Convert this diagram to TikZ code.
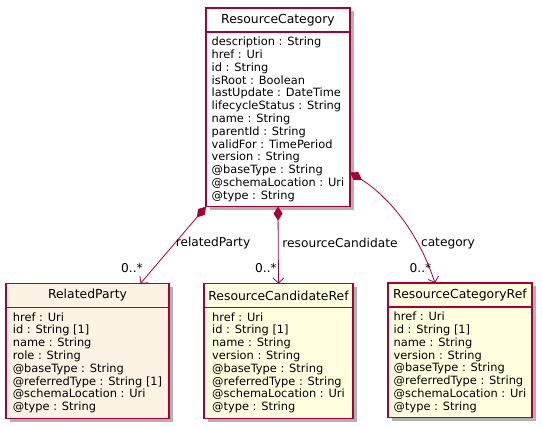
\documentclass[tikz,border=0pt]{standalone}
\usepackage{fontspec}
\setmainfont{DejaVu Sans}
\usetikzlibrary{arrows.meta,shadows}

\definecolor{umlred}{HTML}{A80036}
\definecolor{refyellow}{HTML}{FFFFE0}
\definecolor{partybeige}{HTML}{FCF2E3}

\tikzset{
    classhead/.style={draw=umlred, line width=1.2pt, outer sep=0pt, inner sep=0pt,
        minimum height=24pt, font=\fontsize{12.4}{14}\selectfont,
        drop shadow={shadow xshift=3.5pt, shadow yshift=-3.5pt, fill=black, opacity=0.3}},
    classbody/.style={draw=umlred, line width=1.2pt, outer sep=0pt, anchor=north,
        inner xsep=2pt, inner ysep=5pt, align=left,
        font=\fontsize{11.4}{12.8}\selectfont,
        drop shadow={shadow xshift=3.5pt, shadow yshift=-3.5pt, fill=black, opacity=0.3}},
    composition/.style={umlred, line width=0.8pt,
        {Diamond[length=14pt,width=9pt]}-{Straight Barb[length=5pt,width=11pt]}},
    rolelabel/.style={font=\fontsize{12.2}{14}\selectfont, inner sep=0pt}
}

\begin{document}
\begin{tikzpicture}[x=1pt, y=-1pt]
    \useasboundingbox (0,0) rectangle (542,427);

    % ResourceCategory
    \node[classhead, fill=white, minimum width=144pt] (rc) at (278,20) {ResourceCategory};
    \node[classbody, fill=white, minimum width=144pt] (rcattr) at (rc.south) {%
        description : String\\
        href : Uri\\
        id : String\\
        isRoot : Boolean\\
        lastUpdate : DateTime\\
        lifecycleStatus : String\\
        name : String\\
        parentId : String\\
        validFor : TimePeriod\\
        version : String\\
        @baseType : String\\
        @schemaLocation : Uri\\
        @type : String};

    % RelatedParty
    \node[classhead, fill=partybeige, minimum width=163pt] (rp) at (87.5,295.5) {RelatedParty};
    \node[classbody, fill=partybeige, minimum width=163pt] (rpattr) at (rp.south) {%
        href : Uri\\
        id : String [1]\\
        name : String\\
        role : String\\
        @baseType : String\\
        @referredType : String [1]\\
        @schemaLocation : Uri\\
        @type : String};

    % ResourceCandidateRef
    \node[classhead, fill=refyellow, minimum width=149pt] (rcr) at (278.5,295.5) {ResourceCandidateRef};
    \node[classbody, fill=refyellow, minimum width=149pt] (rcrattr) at (rcr.south) {%
        href : Uri\\
        id : String [1]\\
        name : String\\
        version : String\\
        @baseType : String\\
        @referredType : String\\
        @schemaLocation : Uri\\
        @type : String};

    % ResourceCategoryRef
    \node[classhead, fill=refyellow, minimum width=144pt] (cgr) at (460,295) {ResourceCategoryRef};
    \node[classbody, fill=refyellow, minimum width=144pt] (cgrattr) at (cgr.south) {%
        href : Uri\\
        id : String [1]\\
        name : String\\
        version : String\\
        @baseType : String\\
        @referredType : String\\
        @schemaLocation : Uri\\
        @type : String};

    % associations
    \draw[composition] (rcattr.south west) -- ([xshift=53pt]rp.north);
    \draw[composition] (rcattr.south) -- (rcr.north);
    \draw[composition] ([yshift=-53pt]rcattr.east)
        .. controls +(35,22) and +(-18,-55) .. ([xshift=-25pt]cgr.north);

    \node[rolelabel] (rpname) at (213,243) {relatedParty};
    \node[rolelabel] (rpmult) at (132,268) {0..*};
    \node[rolelabel] (rcrname) at (340,243) {resourceCandidate};
    \node[rolelabel] (rcrmult) at (266,268) {0..*};
    \node[rolelabel] (cgrname) at (448,243) {category};
    \node[rolelabel] (cgrmult) at (420.5,268) {0..*};
\end{tikzpicture}
\end{document}
